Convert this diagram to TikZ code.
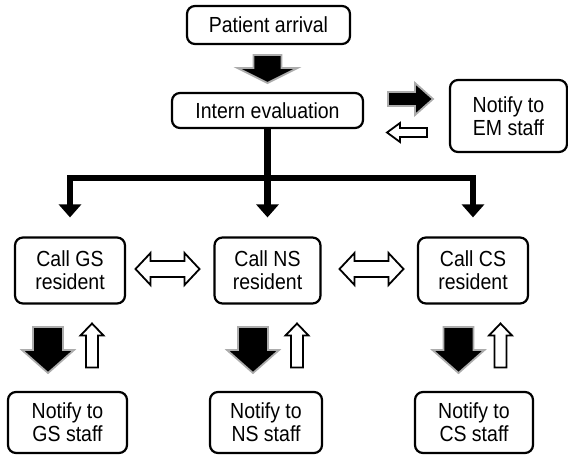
\documentclass[tikz,border=0pt]{standalone}
\usepackage{fontspec}
\setmainfont{Liberation Sans}
\usetikzlibrary{arrows.meta}
\newcommand\tallt[1]{\scalebox{1}[1.12]{#1}}
\begin{document}
\begin{tikzpicture}[x=1pt,y=-1pt,
  box/.style={draw, line width=2.2pt, rounded corners=8pt, align=center, inner sep=0pt,
     font=\fontsize{19.5}{23}\selectfont},
  conn/.style={line width=6.5pt, line join=miter, -{Triangle[width=22pt,length=13pt]}, shorten >=19pt},
  blk/.style={fill=black, draw=gray!65, line width=1.8pt, line join=miter},
  hol/.style={fill=white, draw=black, line width=1.8pt, line join=miter},
  pics/dnblk/.style={code={\path[blk] (-15,-23) -- (15,-23) -- (15,0) -- (26,0) -- (0,23) -- (-26,0) -- (-15,0) -- cycle;}},
  pics/uphol/.style={code={\path[hol] (-6,22) -- (6,22) -- (6,-10) -- (11.5,-10) -- (0,-22) -- (-11.5,-10) -- (-6,-10) -- cycle;}},
  pics/dblhol/.style={code={\path[hol] (-17,-8) -- (17,-8) -- (17,-16) -- (32,0) -- (17,16) -- (17,8) -- (-17,8) -- (-17,16) -- (-32,0) -- (-17,-16) -- cycle;}}
]
\useasboundingbox (0,0) rectangle (568,460);
\node[box, minimum width=163pt, minimum height=38pt] (pa) at (268.5,25) {\tallt{Patient arrival}};
\node[box, minimum width=191pt, minimum height=35pt] (ie) at (267.5,110.5) {\tallt{Intern evaluation}};
\node[box, minimum width=117pt, minimum height=72pt] (em) at (508.5,116) {\tallt{Notify to}\\\tallt{EM staff}};
\node[box, minimum width=110pt, minimum height=66pt] (gs) at (70,270.5) {\tallt{Call GS}\\\tallt{resident}};
\node[box, minimum width=106pt, minimum height=66pt] (ns) at (267.5,270.5) {\tallt{Call NS}\\\tallt{resident}};
\node[box, minimum width=110pt, minimum height=66pt] (cs) at (473,270.5) {\tallt{Call CS}\\\tallt{resident}};
\node[box, minimum width=119pt, minimum height=61pt] (ngs) at (67.5,422.5) {\tallt{Notify to}\\\tallt{GS staff}};
\node[box, minimum width=112pt, minimum height=61pt] (nns) at (266,422.5) {\tallt{Notify to}\\\tallt{NS staff}};
\node[box, minimum width=118pt, minimum height=61pt] (ncs) at (474,422.5) {\tallt{Notify to}\\\tallt{CS staff}};
% tree connector
\coordinate (jn) at (267.5,178);
\draw[conn] (ie.south) -- (ns.north);
\draw[conn] (jn) -| (gs.north);
\draw[conn] (jn) -| (cs.north);
% top block arrow
\path[blk, shift={(267.5,69)}] (-14,-14) -- (14,-14) -- (14,-1) -- (30,-1) -- (0,14) -- (-30,-1) -- (-14,-1) -- cycle;
% EM arrows
\path[blk, shift={(410.5,99)}] (-22.5,-7) -- (4.5,-7) -- (4.5,-16) -- (22.5,0) -- (4.5,16) -- (4.5,7) -- (-22.5,7) -- cycle;
\path[hol, shift={(407,132.5)}] (20,-4.5) -- (-7,-4.5) -- (-7,-9.5) -- (-20,0) -- (-7,9.5) -- (-7,4.5) -- (20,4.5) -- cycle;
% double arrows
\pic at (167.5,269) {dblhol};
\pic at (371.5,269) {dblhol};
% vertical pairs
\pic at (48,350) {dnblk};
\pic at (92,345.5) {uphol};
\pic at (253,350) {dnblk};
\pic at (297,345.5) {uphol};
\pic at (458.5,350) {dnblk};
\pic at (500.5,345.5) {uphol};
\end{tikzpicture}
\end{document}
